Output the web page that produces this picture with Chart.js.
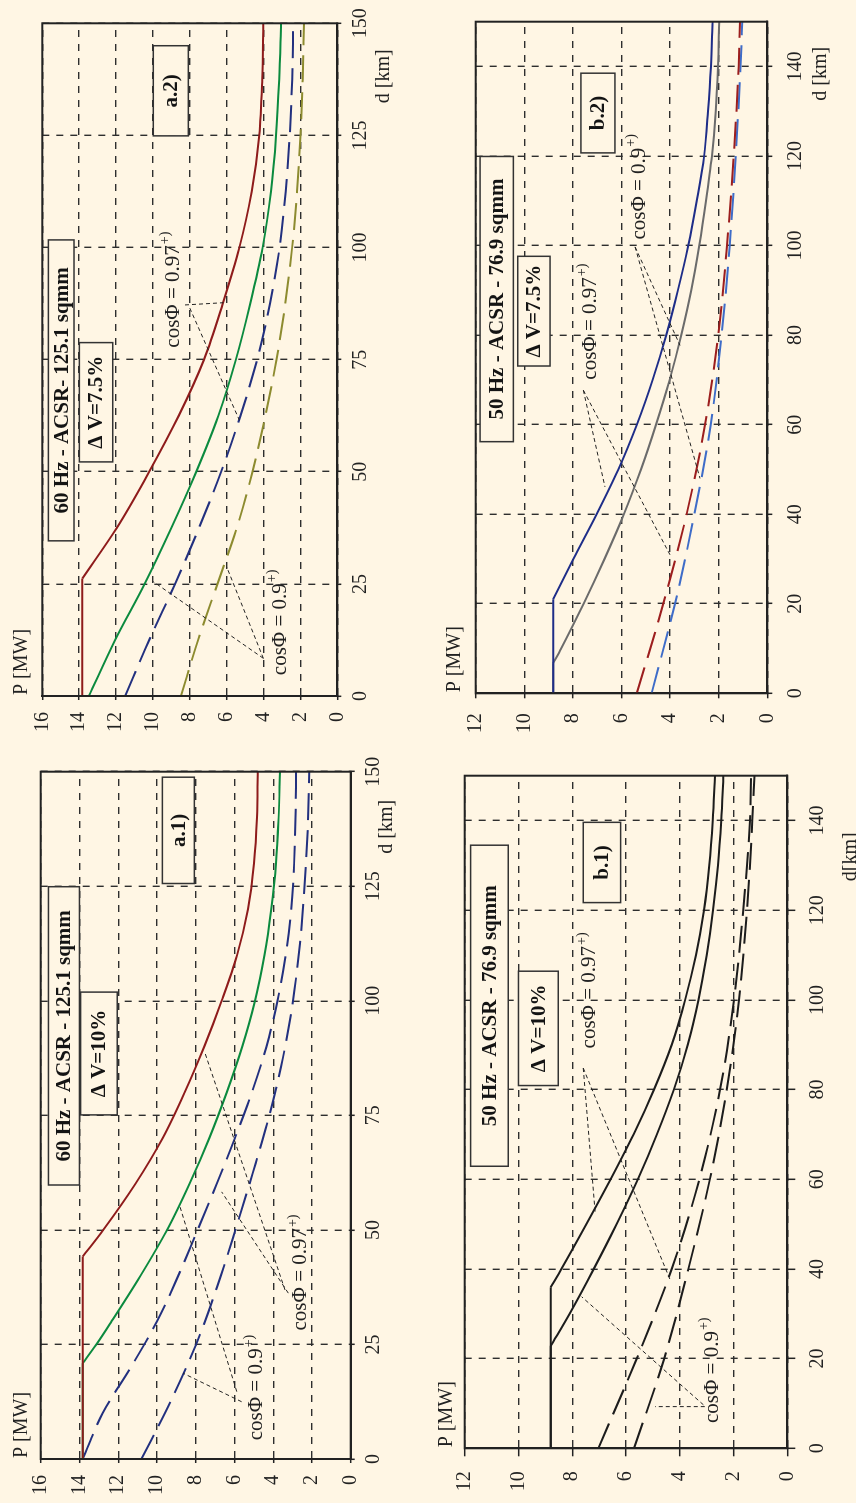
<!DOCTYPE html>
<html>
<head>
<meta charset="utf-8">
<script src="https://cdn.jsdelivr.net/npm/chart.js@4.4.1/dist/chart.umd.min.js"></script>
<style>
html,body{margin:0;padding:0;background:#FFF6E4;}
body{width:856px;height:1503px;overflow:hidden;position:relative;}
#fig{position:absolute;left:0;top:0;width:1503px;height:856px;transform-origin:0 0;transform:translate(0px,1503px) rotate(-90deg);}
#fig canvas{position:absolute;left:0;top:0;width:1503px;height:856px;}
</style>
</head>
<body>
<div id="fig">
<canvas id="a1" width="1503" height="856"></canvas>
<canvas id="a2" width="1503" height="856"></canvas>
<canvas id="b1" width="1503" height="856"></canvas>
<canvas id="b2" width="1503" height="856"></canvas>
</div>
<script>
// ---------------- DATA ----------------
const dTicksA = [0, 25, 50, 75, 100, 125, 150];
const dTicksB = [0, 20, 40, 60, 80, 100, 120, 140];
const pTicksA = [0, 2, 4, 6, 8, 10, 12, 14, 16];
const pTicksB = [0, 2, 4, 6, 8, 10, 12];

// a.1) 60 Hz - ACSR 125.1 sqmm, dV = 10 %
const a1RedD   = [0, 44.2, 50, 60, 70, 80, 90, 100, 110, 120, 130, 140, 150];
const a1RedP   = [13.83, 13.83, 12.77, 11.12, 9.71, 8.57, 7.56, 6.66, 5.86, 5.3, 4.99, 4.84, 4.8];
const a1GreenD = [0, 20.9, 25, 30, 40, 50, 60, 70, 80, 90, 100, 110, 120, 130, 140, 150];
const a1GreenP = [13.83, 13.83, 13.13, 12.35, 10.85, 9.48, 8.33, 7.3, 6.4, 5.6, 4.94, 4.45, 4.1, 3.85, 3.72, 3.65];
const a1Blue1D = [0, 10, 20, 30, 40, 50, 60, 70, 80, 90, 100, 110, 120, 130, 140, 150];
const a1Blue1P = [13.83, 12.8, 11.35, 10.0, 8.9, 7.9, 6.92, 5.98, 5.1, 4.35, 3.78, 3.35, 3.07, 2.92, 2.85, 2.82];
const a1Blue2D = [0, 12.5, 25, 37.5, 50, 62.5, 75, 87.5, 100, 112.5, 125, 137.5, 150];
const a1Blue2P = [10.8, 9.3, 7.98, 6.9, 5.95, 5.05, 4.2, 3.5, 2.98, 2.62, 2.38, 2.22, 2.14];

// a.2) 60 Hz - ACSR 125.1 sqmm, dV = 7.5 %
const a2RedD   = [0, 26.2, 37.5, 50, 62.5, 75, 87.5, 100, 112.5, 125, 137.5, 150];
const a2RedP   = [13.83, 13.83, 11.96, 10.2, 8.6, 7.23, 6.21, 5.31, 4.64, 4.23, 4.07, 4.01];
const a2GreenD = [0, 12.5, 25, 37.5, 50, 62.5, 75, 87.5, 100, 112.5, 125, 137.5, 150];
const a2GreenP = [13.47, 12.05, 10.45, 9.0, 7.65, 6.45, 5.5, 4.72, 4.05, 3.6, 3.32, 3.15, 3.05];
const a2BlueD  = [0, 12.5, 25, 37.5, 50, 62.5, 75, 87.5, 100, 112.5, 125, 137.5, 150];
const a2BlueP  = [11.5, 10.2, 8.8, 7.5, 6.3, 5.25, 4.35, 3.65, 3.13, 2.8, 2.58, 2.45, 2.39];
const a2OliveD = [0, 12.5, 25, 37.5, 50, 62.5, 75, 87.5, 100, 112.5, 125, 137.5, 150];
const a2OliveP = [8.48, 7.55, 6.5, 5.45, 4.6, 3.9, 3.3, 2.82, 2.45, 2.18, 2.0, 1.88, 1.81];

// b.1) 50 Hz - ACSR 76.9 sqmm, dV = 10 %
const b1S1D = [0, 35.9, 40, 50, 60, 70, 80, 90, 100, 110, 120, 130, 140, 150];
const b1S1P = [8.8, 8.8, 8.4, 7.47, 6.57, 5.72, 4.96, 4.3, 3.8, 3.4, 3.1, 2.9, 2.77, 2.69];
const b1S2D = [0, 22.8, 30, 40, 50, 60, 70, 80, 90, 100, 110, 120, 130, 140, 150];
const b1S2P = [8.8, 8.8, 8.1, 7.2, 6.35, 5.56, 4.85, 4.22, 3.7, 3.3, 3.0, 2.76, 2.58, 2.46, 2.38];
const b1D1D = [0, 20, 40, 60, 80, 100, 120, 140, 150];
const b1D1P = [7.03, 5.6, 4.3, 3.27, 2.5, 1.98, 1.64, 1.39, 1.35];
const b1D2D = [0, 20, 40, 60, 80, 100, 120, 140, 150];
const b1D2P = [5.7, 4.58, 3.68, 2.88, 2.25, 1.8, 1.5, 1.3, 1.22];

// b.2) 50 Hz - ACSR 76.9 sqmm, dV = 7.5 %
const b2NavyD = [0, 21, 30, 40, 50, 60, 70, 80, 90, 100, 110, 120, 130, 140, 150];
const b2NavyP = [8.81, 8.81, 7.98, 7.02, 6.13, 5.37, 4.72, 4.16, 3.68, 3.25, 2.9, 2.6, 2.44, 2.32, 2.25];
const b2GrayD = [0, 6.7, 10, 20, 30, 40, 50, 60, 70, 80, 90, 100, 110, 120, 130, 140, 150];
const b2GrayP = [8.81, 8.81, 8.48, 7.56, 6.7, 5.9, 5.2, 4.58, 4.02, 3.54, 3.13, 2.8, 2.52, 2.28, 2.12, 2.03, 1.98];
const b2RedD  = [0, 20, 40, 60, 80, 100, 120, 140, 150];
const b2RedP  = [5.37, 4.28, 3.32, 2.56, 2.02, 1.66, 1.38, 1.18, 1.12];
const b2BlueD = [0, 20, 40, 60, 80, 100, 120, 140, 150];
const b2BlueP = [4.76, 3.8, 3.0, 2.33, 1.88, 1.55, 1.3, 1.1, 1.03];

// ---------------- STYLE / LAYOUT ----------------
const BG = '#FFF6E4';
const FONT = '"Liberation Serif", "Times New Roman", serif';
const DASH = [27, 10];
const C = { red:'#8E1B1B', green:'#0B8A3E', navy:'#22307F', olive:'#8D8B2F', black:'#1C1C1C',
            navy2:'#1E2D88', gray:'#6B6B6B', red2:'#9C1E1E', blue2:'#3E6CC8' };

const panels = [
 { id:'a1', area:{l:44, t:40.7, r:731.3, b:350.7}, yW:40, xH:40, yMax:16,
   pTicks:pTicksA, dTicks:dTicksA, yTL:4, yPad:12, xTL:4, xPad:7,
   series:[[a1RedD,a1RedP,C.red,null],[a1GreenD,a1GreenP,C.green,null],
           [a1Blue1D,a1Blue1P,C.navy,DASH],[a1Blue2D,a1Blue2P,C.navy,DASH]],
   boxes:[[59.8,124.9,14.0,15.6,'60 Hz - ACSR - 125.1 sqmm'],[75.1,101.9,12.05,13.94,'\u0394 V=10%'],[125.6,148.8,8.07,9.72,'a.1)']],
   labels:[[15.5,4.84,'0.9'],[40.6,2.57,'0.97']],
   leaders:[[12.5,5.63,18.7,8.64],[14.7,5.88,55.6,8.85],[36.2,3.22,58.3,6.66],[36.9,3.39,88.6,7.52]],
   pLab:[1,-19,'P [MW]'], dLab:[-55,35.6,'d [km]'] },
 { id:'a2', area:{l:807, t:42.3, r:1479.7, b:337.3}, yW:40, xH:40, yMax:16,
   pTicks:pTicksA, dTicks:dTicksA, yTL:4, yPad:12, xTL:4, xPad:7,
   series:[[a2RedD,a2RedP,C.red,null],[a2GreenD,a2GreenP,C.green,null],
           [a2BlueD,a2BlueP,C.navy,DASH],[a2OliveD,a2OliveP,C.olive,DASH]],
   boxes:[[34.6,101.7,14.28,15.67,'60 Hz - ACSR- 125.1 sqmm'],[52.2,78.8,12.18,13.99,'\u0394 V=7.5%'],[124.9,145,8.08,9.98,'a.2)']],
   labels:[[90.5,8.91,'0.97'],[16.3,3.1,'0.9']],
   leaders:[[87.2,8.26,87.7,6.18],[86.5,8.0,61.5,5.31],[8.4,4.01,25.5,9.98],[8.4,4.01,28.8,6.0]],
   pLab:[1,-20.8,'P [MW]'], dLab:[-53,46.9,'d [km]'] },
 { id:'b1', area:{l:54.7, t:464.7, r:727.3, b:787.3}, yW:50, xH:40, yMax:12,
   pTicks:pTicksB, dTicks:dTicksB, yTL:8, yPad:15, xTL:8, xPad:10,
   series:[[b1S1D,b1S1P,C.black,null],[b1S2D,b1S2P,C.black,null],
           [b1D1D,b1D1P,C.black,DASH],[b1D2D,b1D2P,C.black,DASH]],
   boxes:[[62.9,134.5,10.38,11.78,'50 Hz - ACSR - 76.9 sqmm'],[80.9,106.4,8.52,10.0,'\u0394 V=10%'],[121.7,139.6,6.2,7.59,'b.1)']],
   labels:[[102,7.34,'0.97'],[17.3,2.8,'0.9']],
   leaders:[[84.8,7.59,52.8,7.15],[84.8,7.59,37.6,4.36],[9.7,3.12,33.8,7.65],[9.3,3.07,9.3,4.92]],
   pLab:[1,-18,'P [MW]'], dLab:[-81,63,'d[km]'] },
 { id:'b2', area:{l:809.7, t:475.7, r:1481.3, b:767.3}, yW:50, xH:40, yMax:12,
   pTicks:pTicksB, dTicks:dTicksB, yTL:5, yPad:15, xTL:5, xPad:11,
   series:[[b2NavyD,b2NavyP,C.navy2,null],[b2GrayD,b2GrayP,C.gray,null],
           [b2RedD,b2RedP,C.red2,DASH],[b2BlueD,b2BlueP,C.blue2,DASH]],
   boxes:[[56.2,119.9,10.45,11.82,'50 Hz - ACSR - 76.9 sqmm'],[73.1,97.6,8.94,10.27,'\u0394 V=7.5%'],[120.7,138.5,6.27,7.67,'b.2)']],
   labels:[[113,5.28,'0.9'],[82.9,7.29,'0.97']],
   leaders:[[99.7,5.44,77.7,3.59],[99.7,5.44,48,2.77],[67.7,7.57,46.1,6.68],[67.7,7.57,30.9,4.0]],
   pLab:[1,-20.7,'P [MW]'], dLab:[-52,53.2,'d [km]'] }
];

function buildDatasets(series){
  const out = [];
  series.forEach(([d, p, color, dash]) => {
    const pts = d.map((v, i) => ({x: v, y: p[i]}));
    const base = {borderColor: color, borderWidth: 2, pointRadius: 0, fill: false,
                  borderDash: dash || [], cubicInterpolationMode: 'monotone'};
    if (p[0] === p[1]) {
      out.push(Object.assign({}, base, {data: pts.slice(0, 2)}));
      out.push(Object.assign({}, base, {data: pts.slice(1)}));
    } else {
      out.push(Object.assign({}, base, {data: pts}));
    }
  });
  return out;
}

function decoPlugin(pn){
  return {
    id: 'deco_' + pn.id,
    afterDatasetsDraw(chart){
      const ctx = chart.ctx, ca = chart.chartArea;
      const xs = chart.scales.x, ys = chart.scales.y;
      const X = v => xs.getPixelForValue(v), Y = v => ys.getPixelForValue(v);
      ctx.save();
      // leader lines
      ctx.setLineDash([4, 3]); ctx.lineWidth = 1; ctx.strokeStyle = '#222';
      pn.leaders.forEach(l => { ctx.beginPath(); ctx.moveTo(X(l[0]), Y(l[1])); ctx.lineTo(X(l[2]), Y(l[3])); ctx.stroke(); });
      ctx.setLineDash([]);
      // boxes
      pn.boxes.forEach(b => {
        const x1 = X(b[0]), x2 = X(b[1]), y1 = Y(b[3]), y2 = Y(b[2]);
        ctx.fillStyle = BG; ctx.fillRect(x1, y1, x2 - x1, y2 - y1);
        ctx.lineWidth = 1.5; ctx.strokeStyle = '#333'; ctx.strokeRect(x1, y1, x2 - x1, y2 - y1);
        ctx.fillStyle = '#141414'; ctx.font = 'bold 21px ' + FONT;
        ctx.textAlign = 'center'; ctx.textBaseline = 'middle';
        ctx.fillText(b[4], (x1 + x2) / 2, (y1 + y2) / 2 + 1);
      });
      // cos phi labels
      pn.labels.forEach(lb => {
        const main = 'cos\u03A6 = ' + lb[2], sup = '+)';
        ctx.font = '21px ' + FONT; const w1 = ctx.measureText(main).width;
        ctx.font = '14px ' + FONT; const w2 = ctx.measureText(sup).width;
        const cx = X(lb[0]), cy = Y(lb[1]);
        const sx = cx - (w1 + w2) / 2;
        ctx.fillStyle = '#222'; ctx.textAlign = 'left'; ctx.textBaseline = 'middle';
        ctx.font = '21px ' + FONT; ctx.fillText(main, sx, cy);
        ctx.font = '14px ' + FONT; ctx.fillText(sup, sx + w1 + 1, cy - 8);
      });
      // frame
      ctx.lineWidth = 2; ctx.strokeStyle = '#222';
      ctx.strokeRect(ca.left, ca.top, ca.right - ca.left, ca.bottom - ca.top);
      // axis titles
      ctx.fillStyle = '#222'; ctx.font = '20px ' + FONT; ctx.textBaseline = 'middle';
      ctx.textAlign = 'left'; ctx.fillText(pn.pLab[2], ca.left + pn.pLab[0], ca.top + pn.pLab[1]);
      ctx.textAlign = 'center'; ctx.fillText(pn.dLab[2], ca.right + pn.dLab[0], ca.bottom + pn.dLab[1]);
      ctx.restore();
    }
  };
}

panels.forEach(pn => {
  const a = pn.area;
  new Chart(document.getElementById(pn.id), {
    type: 'line',
    data: { datasets: buildDatasets(pn.series) },
    options: {
      responsive: false, animation: false, devicePixelRatio: 1, events: [],
      layout: { padding: { left: a.l - pn.yW, top: a.t, right: 1503 - a.r, bottom: 856 - a.b - pn.xH } },
      plugins: { legend: { display: false }, tooltip: { enabled: false } },
      scales: {
        x: {
          type: 'linear', min: 0, max: 150,
          afterBuildTicks: s => { s.ticks = pn.dTicks.map(v => ({ value: v })); },
          afterFit: s => { s.height = pn.xH; },
          ticks: { color: '#222', font: { family: FONT, size: 20 }, padding: pn.xPad, maxRotation: 0, autoSkip: false,
                   callback: v => String(v) },
          grid: { color: '#2e2e2e', lineWidth: 1.4, tickLength: pn.xTL, tickColor: '#222', tickWidth: 1.5, tickBorderDash: [] },
          border: { display: true, color: '#222', width: 2, dash: [7, 7] }
        },
        y: {
          type: 'linear', min: 0, max: pn.yMax,
          afterBuildTicks: s => { s.ticks = pn.pTicks.map(v => ({ value: v })); },
          afterFit: s => { s.width = pn.yW; },
          ticks: { color: '#222', font: { family: FONT, size: 20 }, padding: pn.yPad, autoSkip: false,
                   callback: v => String(v) },
          grid: { color: '#2e2e2e', lineWidth: 1.4, tickLength: pn.yTL, tickColor: '#222', tickWidth: 1.5, tickBorderDash: [] },
          border: { display: true, color: '#222', width: 2, dash: [7, 7] }
        }
      }
    },
    plugins: [decoPlugin(pn)]
  });
});
</script>
</body>
</html>
